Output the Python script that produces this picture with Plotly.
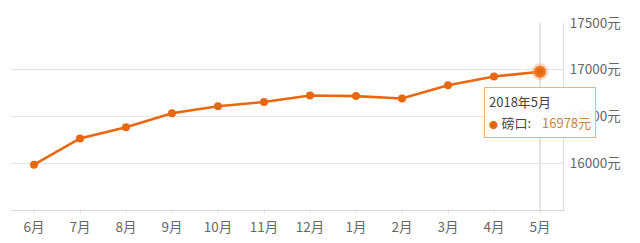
import plotly.graph_objects as go

months = ["6月", "7月", "8月", "9月", "10月", "11月", "12月", "1月", "2月", "3月", "4月", "5月"]
prices = [15985, 16265, 16385, 16535, 16610, 16655, 16725, 16718, 16692, 16835, 16928, 16978]
y_ticks = [16000, 16500, 17000, 17500]
tip_title = "2018年5月"
tip_series = "磅口"

line_color = "#e8680f"
font_family = "Noto Sans CJK SC, Noto Sans, sans-serif"

fig = go.Figure()
fig.add_trace(go.Scatter(
    x=months, y=prices, mode="lines+markers",
    line=dict(color=line_color, width=2.6),
    marker=dict(color=line_color, size=8),
    hoverinfo="skip", showlegend=False,
))
# highlighted last point with halo
fig.add_trace(go.Scatter(
    x=[months[-1]], y=[prices[-1]], mode="markers",
    marker=dict(color=line_color, size=12,
                line=dict(color="rgba(245,150,80,0.35)", width=5)),
    hoverinfo="skip", showlegend=False,
))

# crosshair line at the last category
fig.add_shape(type="line", xref="x", yref="paper",
              x0=len(months) - 1, x1=len(months) - 1, y0=0, y1=1,
              line=dict(color="#c8c8c8", width=1), layer="below")

tip_text = (f"<span style='color:#444;font-size:13px'>{tip_title}</span><br>"
            f"<span style='color:{line_color};font-size:9px'>●</span> "
            f"<span style='color:#444;font-size:13px'>{tip_series}:</span>   "
            f"<span style='color:#c8863c;font-size:13px'>{prices[-1]}元</span>")
fig.add_annotation(
    x=months[-1], y=prices[-1], xref="x", yref="y",
    text=tip_text, showarrow=False, align="left",
    xanchor="center", yanchor="top", yshift=-15,
    font=dict(family=font_family, size=16, color="#444"),
    bgcolor="rgba(255,255,255,0.92)", bordercolor="#efb27a",
    borderwidth=1, borderpad=4,
)

fig.update_layout(
    width=640, height=243,
    margin=dict(l=11, r=77, t=23, b=33),
    paper_bgcolor="white", plot_bgcolor="white",
    font=dict(family=font_family, size=13.5, color="#666"),
    xaxis=dict(
        type="category", range=[-0.5, len(months) - 0.5],
        showgrid=False, showline=True, linecolor="#d6d6d6", linewidth=1,
        ticks="outside", ticklen=3, tickcolor="#e4e4e4",
        ticklabelstandoff=2, automargin=False,
        tickfont=dict(size=13.5, color="#666"), zeroline=False,
    ),
    yaxis=dict(
        side="right", range=[15500, 17500],
        tickvals=y_ticks, ticktext=[f"{v}元" for v in y_ticks],
        showgrid=True, gridcolor="#e3e3e3", gridwidth=1,
        showline=True, linecolor="#e0e0e0", linewidth=1,
        zeroline=False, ticks="", ticklabelstandoff=3, automargin=False,
        tickfont=dict(size=13.5, color="#666"),
    ),
)

fig.write_html("out.html")
